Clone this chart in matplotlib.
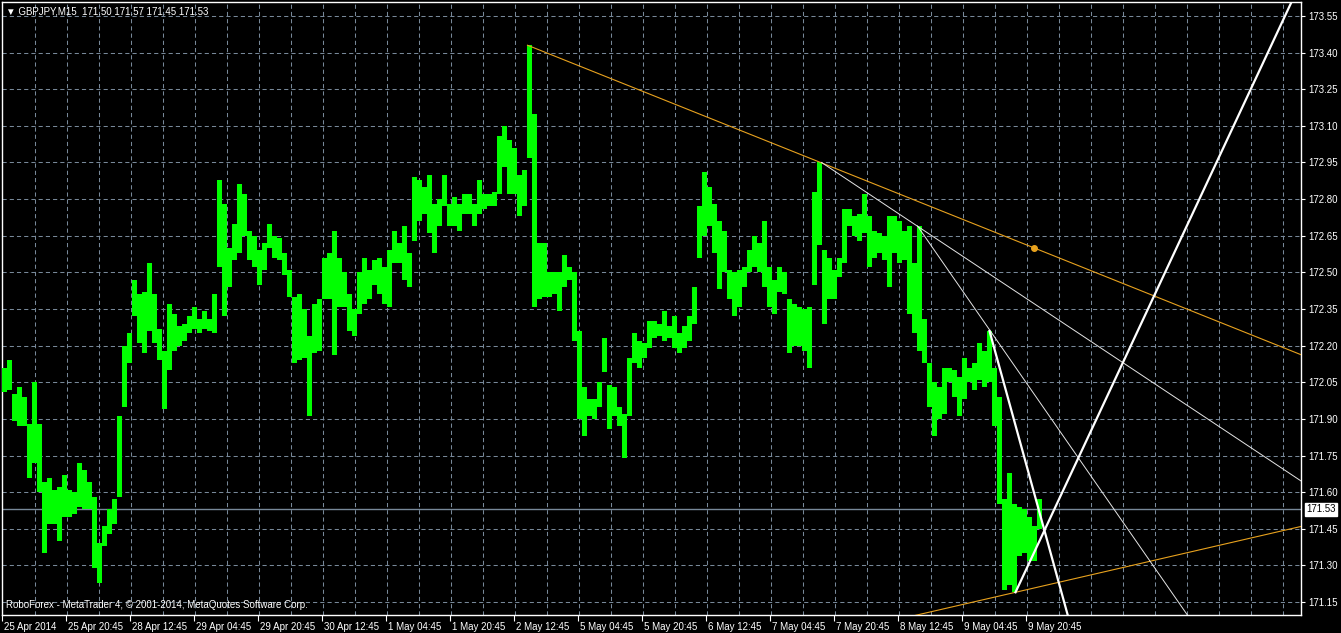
import numpy as np
import matplotlib
matplotlib.use("Agg")
import matplotlib.pyplot as plt
from matplotlib.transforms import ScaledTranslation, blended_transform_factory

plt.rcParams['font.family'] = ['Liberation Sans', 'DejaVu Sans']
plt.rcParams['lines.scale_dashes'] = False

# GBPJPY M15, 1 bar per pixel; bars grouped in blocks of 5 (high / low of each block)
block_size = 5
block_hi = [172.11, 172.14, 172.00, 172.03, 171.99, 171.88, 172.05, 171.88, 171.64, 171.66,
            171.61, 171.62, 171.67, 171.61, 171.60, 171.72, 171.69, 171.64, 171.58, 171.39,
            171.46, 171.53, 171.57, 171.91, 172.20, 172.25, 172.47, 172.41, 172.42, 172.54,
            172.41, 172.27, 172.18, 172.37, 172.33, 172.28, 172.29, 172.32, 172.36, 172.31,
            172.34, 172.31, 172.41, 172.88, 172.78, 172.60, 172.70, 172.86, 172.82, 172.67,
            172.65, 172.59, 172.62, 172.70, 172.65, 172.64, 172.58, 172.51, 172.40, 172.41,
            172.35, 172.24, 172.37, 172.39, 172.56, 172.58, 172.67, 172.56, 172.50, 172.41,
            172.35, 172.50, 172.56, 172.51, 172.55, 172.56, 172.52, 172.59, 172.67, 172.62,
            172.69, 172.58, 172.89, 172.88, 172.85, 172.90, 172.78, 172.80, 172.90, 172.78,
            172.81, 172.78, 172.82, 172.82, 172.78, 172.88, 172.82, 172.82, 172.83, 173.06,
            173.10, 173.04, 173.01, 172.90, 172.92, 173.43, 173.15, 172.62, 172.62, 172.50,
            172.50, 172.50, 172.57, 172.52, 172.50, 172.26, 172.03, 171.98, 171.98, 172.05,
            172.23, 172.04, 172.03, 171.95, 171.92, 172.15, 172.25, 172.22, 172.21, 172.30,
            172.30, 172.29, 172.34, 172.28, 172.32, 172.25, 172.28, 172.32, 172.44, 172.77,
            172.91, 172.85, 172.78, 172.71, 172.67, 172.51, 172.50, 172.51, 172.52, 172.59,
            172.65, 172.62, 172.71, 172.52, 172.47, 172.52, 172.50, 172.39, 172.37, 172.36,
            172.35, 172.36, 172.83, 172.95, 172.59, 172.56, 172.51, 172.56, 172.76, 172.76,
            172.73, 172.74, 172.82, 172.73, 172.67, 172.66, 172.65, 172.73, 172.73, 172.71,
            172.67, 172.69, 172.54, 172.69, 172.31, 172.13, 172.05, 172.03, 172.11, 172.11,
            172.10, 172.07, 172.15, 172.11, 172.13, 172.21, 172.18, 172.26, 172.11, 171.99,
            171.57, 171.68, 171.55, 171.54, 171.53, 171.50, 171.46, 171.57]
block_lo = [172.01, 172.02, 171.89, 171.87, 171.87, 171.66, 171.72, 171.60, 171.35, 171.47,
            171.47, 171.40, 171.50, 171.50, 171.51, 171.54, 171.53, 171.53, 171.29, 171.23,
            171.38, 171.43, 171.47, 171.58, 171.95, 172.13, 172.32, 172.21, 172.17, 172.26,
            172.21, 172.14, 171.94, 172.10, 172.18, 172.20, 172.22, 172.25, 172.27, 172.25,
            172.27, 172.26, 172.25, 172.52, 172.32, 172.44, 172.55, 172.58, 172.65, 172.55,
            172.52, 172.45, 172.51, 172.60, 172.56, 172.55, 172.49, 172.40, 172.13, 172.14,
            172.15, 171.91, 172.17, 172.18, 172.39, 172.39, 172.16, 172.36, 172.36, 172.26,
            172.24, 172.33, 172.37, 172.39, 172.45, 172.41, 172.37, 172.36, 172.54, 172.54,
            172.47, 172.44, 172.63, 172.71, 172.74, 172.66, 172.58, 172.69, 172.77, 172.69,
            172.69, 172.67, 172.74, 172.74, 172.69, 172.74, 172.76, 172.77, 172.77, 172.82,
            172.93, 172.82, 172.82, 172.73, 172.77, 172.97, 172.36, 172.39, 172.40, 172.40,
            172.41, 172.34, 172.44, 172.47, 172.22, 171.90, 171.83, 171.91, 171.90, 171.95,
            172.09, 171.86, 171.91, 171.87, 171.74, 171.91, 172.13, 172.11, 172.15, 172.19,
            172.23, 172.24, 172.22, 172.23, 172.19, 172.17, 172.19, 172.22, 172.29, 172.56,
            172.65, 172.69, 172.58, 172.43, 172.50, 172.39, 172.32, 172.36, 172.44, 172.50,
            172.52, 172.50, 172.44, 172.36, 172.33, 172.42, 172.41, 172.17, 172.20, 172.20,
            172.18, 172.11, 172.45, 172.61, 172.29, 172.39, 172.39, 172.48, 172.54, 172.69,
            172.65, 172.63, 172.66, 172.52, 172.56, 172.58, 172.55, 172.44, 172.58, 172.54,
            172.55, 172.33, 172.25, 172.18, 172.13, 171.95, 171.83, 171.90, 171.92, 172.05,
            171.99, 171.91, 171.98, 172.05, 172.02, 172.06, 172.03, 172.05, 171.87, 171.55,
            171.20, 171.22, 171.19, 171.34, 171.35, 171.32, 171.32, 171.45]

time_labels = ["25 Apr 2014", "25 Apr 20:45", "28 Apr 12:45", "29 Apr 04:45", "29 Apr 20:45",
               "30 Apr 12:45", "1 May 04:45", "1 May 20:45", "2 May 12:45", "5 May 04:45",
               "5 May 20:45", "6 May 12:45", "7 May 04:45", "7 May 20:45", "8 May 12:45",
               "9 May 04:45", "9 May 20:45"]
bars_per_label = 64

price_ticks = [171.15, 171.30, 171.45, 171.60, 171.75, 171.90, 172.05, 172.20, 172.35,
               172.50, 172.65, 172.80, 172.95, 173.10, 173.25, 173.40, 173.55]
last_price = 171.53
ohlc_last = [171.50, 171.57, 171.45, 171.53]

# trend lines: (bar, price) anchors, drawn as rays to the right
orange_upper = [(525, 173.43), (818, 172.95)]
orange_lower = [(1013, 171.19), (1299, 171.46)]
thin_a = [(819, 172.95), (1058, 172.30)]
thin_b = [(915, 172.69), (987, 172.265)]
thick_c = [(987, 172.26), (1065, 171.10)]
thick_d = [(1013, 171.19), (1198, 172.81)]
orange_dot = (1032, 172.60)

GREEN = '#00FF00'
ORANGE = '#E8A21E'
GRID = '#778899'

W, H = 1341, 633
fig = plt.figure(figsize=(W / 100, H / 100), dpi=100, facecolor='black')
ax = fig.add_axes([2 / W, (H - 615) / H, 1299 / W, 613 / H], facecolor='black')

n_bars = 1299
ax.set_xlim(-0.5, n_bars - 0.5)
ax.set_ylim(171.097, 173.607)

# grid
ax.set_yticks(price_ticks)
ax.set_yticklabels(['%.2f' % p for p in price_ticks])
ax.set_xticks(np.arange(len(time_labels)) * bars_per_label)
ax.set_xticklabels(time_labels)
ax.set_xticks(np.arange(33, n_bars, 32), minor=True)
ax.grid(True, axis='y', which='major', color=GRID, lw=0.75, ls=(0, (3, 2.2)))
ax.grid(True, axis='x', which='minor', color=GRID, lw=0.75, ls=(0, (3, 2.2)))
ax.set_axisbelow(True)

# price bars
hi = np.array(block_hi)
lo = np.array(block_lo)
xc = np.arange(len(hi)) * block_size + (block_size - 1) / 2
ax.bar(xc, hi - lo, bottom=lo, width=block_size, color=GREEN, linewidth=0,
       antialiased=False, zorder=3)

# bid line
ax.axhline(last_price, color=GRID, lw=1.0, zorder=2)


def ray(pts, x_end=1400):
    (x0, y0), (x1, y1) = pts
    slope = (y1 - y0) / (x1 - x0)
    return [x0, x_end], [y0, y0 + slope * (x_end - x0)]


def full(pts, x_start=880, x_end=1400):
    (x0, y0), (x1, y1) = pts
    slope = (y1 - y0) / (x1 - x0)
    return [x_start, x_end], [y0 + slope * (x_start - x0), y0 + slope * (x_end - x0)]


ax.plot(*ray(orange_upper), color=ORANGE, lw=0.8, zorder=4)
ax.plot(*full(orange_lower), color=ORANGE, lw=0.8, zorder=4)
ax.plot(*ray(thin_a), color='#E6E6E6', lw=0.7, zorder=4)
ax.plot(*ray(thin_b), color='#E6E6E6', lw=0.7, zorder=4)
ax.plot(*ray(thick_c), color='white', lw=1.6, zorder=5)
ax.plot(*ray(thick_d), color='white', lw=1.6, zorder=5)
ax.plot([orange_dot[0]], [orange_dot[1]], 'o', color=ORANGE, ms=4, zorder=6)

# axes styling
for s in ax.spines.values():
    s.set_color('white')
    s.set_linewidth(1.0)
ax.yaxis.tick_right()
ax.tick_params(axis='y', which='major', colors='white', labelsize=7, length=3, width=0.8, pad=2)
ax.tick_params(axis='x', which='major', colors='white', labelsize=7, length=4, width=0.8, pad=1)
ax.tick_params(axis='x', which='minor', length=0)
off = ScaledTranslation(2 / 100, 0, fig.dpi_scale_trans)
for lab in ax.get_xticklabels():
    lab.set_horizontalalignment('left')
    lab.set_transform(lab.get_transform() + off)

# last price box
tr = blended_transform_factory(ax.transAxes, ax.transData)
ax.text(1.0, last_price, '%.2f' % last_price, transform=tr + ScaledTranslation(5 / 100, 0, fig.dpi_scale_trans),
        ha='left', va='center', fontsize=7, color='black',
        bbox=dict(boxstyle='square,pad=0.15', fc='white', ec='white'), clip_on=False, zorder=10)

# header and footer
ax.text(4 / 1299, 1 - 9 / 613, '\u25bc GBPJPY,M15  ' + ' '.join('%.2f' % v for v in ohlc_last),
        transform=ax.transAxes, ha='left', va='center', fontsize=7, color='white', zorder=10)
ax.text(4 / 1299, 10 / 613, 'RoboForex - MetaTrader 4, \u00a9 2001-2014, MetaQuotes Software Corp.',
        transform=ax.transAxes, ha='left', va='center', fontsize=7, color='white', zorder=10)

fig.savefig('out.png', dpi=100, facecolor='black')
